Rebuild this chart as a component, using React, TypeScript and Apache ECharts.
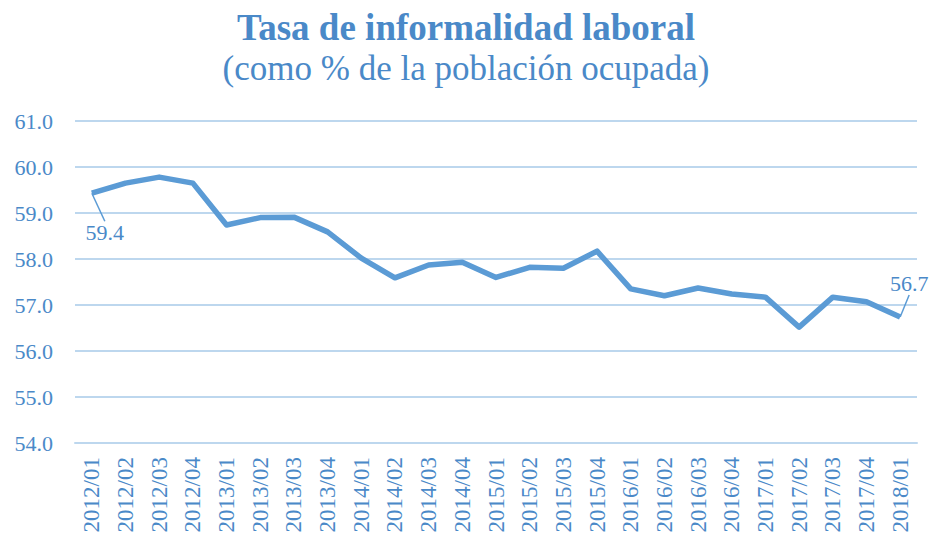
import React, { useEffect, useRef } from "react";
import * as echarts from "echarts";

const categories = [
  "2012/01", "2012/02", "2012/03", "2012/04",
  "2013/01", "2013/02", "2013/03", "2013/04",
  "2014/01", "2014/02", "2014/03", "2014/04",
  "2015/01", "2015/02", "2015/03", "2015/04",
  "2016/01", "2016/02", "2016/03", "2016/04",
  "2017/01", "2017/02", "2017/03", "2017/04",
  "2018/01",
];

const informalidad = [
  59.43, 59.65, 59.78, 59.65,
  58.74, 58.9, 58.91, 58.59,
  58.02, 57.59, 57.87, 57.93,
  57.6, 57.82, 57.8, 58.17,
  57.35, 57.2, 57.37, 57.24,
  57.17, 56.52, 57.17, 57.07,
  56.74,
];

const titleText = "Tasa de informalidad laboral";
const subtitleText = "(como % de la población ocupada)";

const BLUE = "#5B9BD5";
const TEXT_BLUE = "#4A89C8";
const FONT = "'Liberation Serif', 'DejaVu Serif', serif";

export default function App() {
  const ref = useRef<HTMLDivElement>(null);
  useEffect(() => {
    if (!ref.current) return;
    const chart = echarts.init(ref.current, undefined, { renderer: "svg" });
    const last = informalidad.length - 1;
    const fmt = (p: any) => (Math.floor(p.value * 10) / 10).toFixed(1);
    const data = informalidad.map((v, i) => {
      if (i === 0) {
        return {
          value: v,
          label: { show: true, formatter: fmt, position: "bottom", distance: 0 },
          labelLine: { show: true },
        };
      }
      if (i === last) {
        return {
          value: v,
          label: { show: true, formatter: fmt, position: "top", distance: 0 },
          labelLine: { show: true },
        };
      }
      return v;
    });
    chart.setOption({
      animation: false,
      backgroundColor: "#ffffff",
      title: [
        {
          text: titleText,
          left: "center",
          top: 4,
          textStyle: {
            fontFamily: FONT,
            fontSize: 37,
            fontWeight: "bold",
            color: TEXT_BLUE,
          },
        },
        {
          text: subtitleText,
          left: "center",
          top: 46,
          textStyle: {
            fontFamily: FONT,
            fontSize: 35,
            fontWeight: "normal",
            color: TEXT_BLUE,
          },
        },
      ],
      grid: { left: 75, right: 15, top: 121, bottom: 99, containLabel: false },
      xAxis: {
        type: "category",
        data: categories,
        boundaryGap: true,
        axisLine: { show: true, lineStyle: { color: "#BDD7EE", width: 2 } },
        axisTick: { show: false },
        axisLabel: {
          rotate: 90,
          margin: 14,
          interval: 0,
          fontFamily: FONT,
          fontSize: 23,
          color: TEXT_BLUE,
        },
      },
      yAxis: {
        type: "value",
        min: 54,
        max: 61,
        interval: 1,
        axisLine: { show: false },
        axisTick: { show: false },
        splitLine: { lineStyle: { color: "#BDD7EE", width: 2 } },
        axisLabel: {
          margin: 22,
          fontFamily: FONT,
          fontSize: 22,
          color: TEXT_BLUE,
          formatter: (v: number) => v.toFixed(1),
        },
      },
      series: [
        {
          type: "line",
          data,
          symbol: "circle",
          symbolSize: 0.01,
          showSymbol: true,
          lineStyle: { color: BLUE, width: 5.5, join: "round" },
          itemStyle: { color: BLUE },
          label: {
            show: false,
            fontFamily: FONT,
            fontSize: 22,
            color: TEXT_BLUE,
          },
          labelLine: {
            show: true,
            length2: 0,
            lineStyle: { color: BLUE, width: 1.5 },
          },
          labelLayout: (params: any) => {
            if (params.dataIndex === 0) return { dx: 13, dy: 28 };
            if (params.dataIndex === last) return { dx: 9, dy: -22 };
            return {};
          },
        },
      ],
    });
    return () => chart.dispose();
  }, []);
  return (
    <div
      ref={ref}
      style={{ position: "fixed", left: 0, top: 0, width: 932, height: 542 }}
    />
  );
}
